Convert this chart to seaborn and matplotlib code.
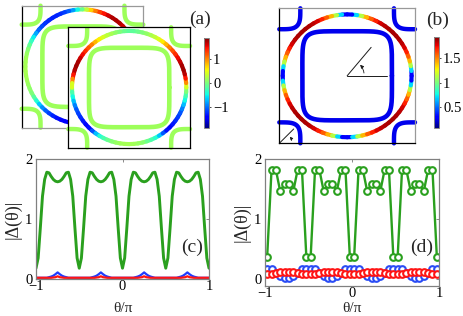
import numpy as np
import matplotlib
matplotlib.use("Agg")
import matplotlib.pyplot as plt
import seaborn as sns
from matplotlib.collections import LineCollection
from matplotlib.patches import FancyArrowPatch
from matplotlib import cm, colors

# ---- data ----
# continuous curves, theta/pi from -1 to 1 in steps of 0.025
theta_c = np.linspace(-1, 1, 81)
gap_green_c = [0.18, 0.35, 0.85, 1.38, 1.66, 1.78, 1.77, 1.71, 1.66, 1.63,
               1.62, 1.63, 1.66, 1.71, 1.77, 1.78, 1.66, 1.38, 0.85, 0.35,
               0.18, 0.35, 0.85, 1.38, 1.66, 1.78, 1.77, 1.71, 1.66, 1.63,
               1.62, 1.63, 1.66, 1.71, 1.77, 1.78, 1.66, 1.38, 0.85, 0.35,
               0.18, 0.35, 0.85, 1.38, 1.66, 1.78, 1.77, 1.71, 1.66, 1.63,
               1.62, 1.63, 1.66, 1.71, 1.77, 1.78, 1.66, 1.38, 0.85, 0.35,
               0.18, 0.35, 0.85, 1.38, 1.66, 1.78, 1.77, 1.71, 1.66, 1.63,
               1.62, 1.63, 1.66, 1.71, 1.77, 1.78, 1.66, 1.38, 0.85, 0.35,
               0.18]
gap_blue_c = [0.02, 0.02, 0.02, 0.02, 0.02, 0.02, 0.03, 0.04, 0.055, 0.08,
              0.11, 0.08, 0.055, 0.04, 0.03, 0.02, 0.02, 0.02, 0.02, 0.02,
              0.02, 0.02, 0.02, 0.02, 0.02, 0.02, 0.03, 0.04, 0.055, 0.08,
              0.11, 0.08, 0.055, 0.04, 0.03, 0.02, 0.02, 0.02, 0.02, 0.02,
              0.02, 0.02, 0.02, 0.02, 0.02, 0.02, 0.03, 0.04, 0.055, 0.08,
              0.11, 0.08, 0.055, 0.04, 0.03, 0.02, 0.02, 0.02, 0.02, 0.02,
              0.02, 0.02, 0.02, 0.02, 0.02, 0.02, 0.03, 0.04, 0.055, 0.08,
              0.11, 0.08, 0.055, 0.04, 0.03, 0.02, 0.02, 0.02, 0.02, 0.02,
              0.02]
gap_red_c = [0.02, 0.02, 0.02, 0.02, 0.02, 0.02, 0.02, 0.02, 0.025, 0.03,
             0.045, 0.03, 0.025, 0.02, 0.02, 0.02, 0.02, 0.02, 0.02, 0.02,
             0.02, 0.02, 0.02, 0.02, 0.02, 0.02, 0.02, 0.02, 0.025, 0.03,
             0.045, 0.03, 0.025, 0.02, 0.02, 0.02, 0.02, 0.02, 0.02, 0.02,
             0.02, 0.02, 0.02, 0.02, 0.02, 0.02, 0.02, 0.02, 0.025, 0.03,
             0.045, 0.03, 0.025, 0.02, 0.02, 0.02, 0.02, 0.02, 0.02, 0.02,
             0.02, 0.02, 0.02, 0.02, 0.02, 0.02, 0.02, 0.02, 0.025, 0.03,
             0.045, 0.03, 0.025, 0.02, 0.02, 0.02, 0.02, 0.02, 0.02, 0.02,
             0.02]

# signed gap on the outer sheet of panel (a), same theta grid
delta_front = [0.15, -0.1, -0.35, -0.6, -0.85, -1.05, -1.15, -1.25, -1.3, -1.4,
               -1.45, -1.3, -0.9, -0.5, -0.3, -0.15, 0.0, 0.1, 0.15, 0.18,
               0.2, 0.18, 0.15, 0.1, 0.0, -0.15, -0.3, -0.5, -0.9, -1.3,
               -1.45, -1.4, -1.3, -1.25, -1.15, -1.05, -0.85, -0.6, -0.35, -0.1,
               0.15, 0.7, 1.3, 1.65, 1.78, 1.8, 1.72, 1.6, 1.45, 1.3,
               1.15, 0.95, 0.7, 0.5, 0.35, 0.25, 0.15, 0.05, -0.05, -0.12,
               -0.15, -0.12, -0.05, 0.05, 0.15, 0.25, 0.35, 0.5, 0.7, 0.95,
               1.15, 1.3, 1.45, 1.6, 1.72, 1.8, 1.78, 1.65, 1.3, 0.7,
               0.15]
delta_back = [0.2, 0.2, 0.2, 0.18, 0.15, 0.1, 0.05, -0.05, -0.3, -0.55,
              -0.8, -1.0, -1.15, -1.25, -1.35, -1.4, -1.45, -1.45, -1.35, -1.2,
              -1.0, -0.75, -0.5, -0.25, -0.05, 0.1, 0.15, 0.2, 0.2, 0.2,
              0.2, 0.2, 0.2, 0.2, 0.2, 0.25, 0.3, 0.4, 0.55, 0.7,
              0.85, 1.0, 1.1, 1.2, 1.3, 1.4, 1.45, 1.5, 1.55, 1.58,
              1.6, 1.7, 1.75, 1.75, 1.7, 1.55, 1.4, 1.2, 0.9, 0.5,
              0.1, -0.3, -0.7, -1.0, -1.15, -1.25, -1.3, -1.3, -1.3, -1.25,
              -1.2, -1.1, -0.95, -0.65, -0.4, -0.2, 0.0, 0.1, 0.15, 0.18,
              0.2]
# gap magnitude on the outer sheet of panel (b), same theta grid
gap_outer_b = [0.1, 0.45, 0.95, 1.3, 1.5, 1.65, 1.75, 1.82, 1.85, 1.86,
               1.86, 1.86, 1.85, 1.82, 1.75, 1.65, 1.5, 1.3, 0.95, 0.45,
               0.1, 0.45, 0.95, 1.3, 1.5, 1.65, 1.75, 1.82, 1.85, 1.86,
               1.86, 1.86, 1.85, 1.82, 1.75, 1.65, 1.5, 1.3, 0.95, 0.45,
               0.1, 0.45, 0.95, 1.3, 1.5, 1.65, 1.75, 1.82, 1.85, 1.86,
               1.86, 1.86, 1.85, 1.82, 1.75, 1.65, 1.5, 1.3, 0.95, 0.45,
               0.1, 0.45, 0.95, 1.3, 1.5, 1.65, 1.75, 1.82, 1.85, 1.86,
               1.86, 1.86, 1.85, 1.82, 1.75, 1.65, 1.5, 1.3, 0.95, 0.45,
               0.1]
inner_delta_a = 0.15   # rounded square + corner pockets, panel (a)
inner_gap_b = 0.25     # rounded square + corner pockets, panel (b)

# discrete points, panel (d)
theta_d = np.linspace(-0.975, 0.975, 40)
gap_green_d = [0.37, 1.82, 1.82, 1.46, 1.59, 1.59, 1.46, 1.82, 1.82, 0.37] * 4
gap_blue_d = [0.17, 0.16, 0.10, 0.04, 0.02, 0.02, 0.04, 0.10, 0.16, 0.17] * 4
gap_red_d = [0.08, 0.08, 0.09, 0.11, 0.12, 0.12, 0.11, 0.09, 0.08, 0.08] * 4

# ---- figure ----
sns.set_theme(style="white")
plt.rcParams['font.family'] = ['Liberation Serif', 'DejaVu Serif']

W, H = 463, 316
fig = plt.figure(figsize=(W / 100, H / 100), dpi=100)
cmap = plt.get_cmap('jet')

GREEN = '#2aa01e'
BLUE = '#1f3cff'
RED = '#ff1414'


def px_axes(x0, y0, x1, y1):
    return fig.add_axes([x0 / W, (H - y1) / H, (x1 - x0) / W, (y1 - y0) / H])


def bz_axes(x0, y0, x1, y1, edge):
    ax = px_axes(x0, y0, x1, y1)
    ax.set_xlim(-1, 1)
    ax.set_ylim(-1, 1)
    ax.set_xticks([])
    ax.set_yticks([])
    ax.set_facecolor('white')
    for side, c in zip(['left', 'bottom', 'top', 'right'], edge):
        ax.spines[side].set_color(c)
        ax.spines[side].set_linewidth(0.9)
    return ax


def draw_fs(ax, vals, inner_val, norm, rx, ry):
    c_in = cmap(norm(inner_val))
    tq = np.linspace(0, np.pi / 2, 60)
    pr, pn = 0.31, 4.0
    for cx in (-1, 1):
        for cy in (-1, 1):
            ax.plot(cx - cx * pr * np.abs(np.cos(tq)) ** (2 / pn),
                    cy - cy * pr * np.abs(np.sin(tq)) ** (2 / pn),
                    color=c_in, lw=3.2, solid_capstyle='round', clip_on=False)
    t = np.linspace(0, 2 * np.pi, 400)
    sr, sn = 0.66, 6.0
    ax.plot(sr * np.sign(np.cos(t)) * np.abs(np.cos(t)) ** (2 / sn),
            sr * np.sign(np.sin(t)) * np.abs(np.sin(t)) ** (2 / sn),
            color=c_in, lw=3.3, clip_on=False)
    v = np.asarray(vals)
    pts = np.column_stack([rx * np.cos(np.pi * theta_c), ry * np.sin(np.pi * theta_c)])
    segs = np.stack([pts[:-1], pts[1:]], axis=1)
    lc = LineCollection(segs, cmap=cmap, norm=norm, linewidths=3.0,
                        capstyle='round', clip_on=False)
    lc.set_array((v[:-1] + v[1:]) / 2)
    ax.add_collection(lc)


# panel (a): two offset zones
norm_a = colors.Normalize(-1.9, 1.9)
ax_back = bz_axes(21.7, 5.7, 143.3, 127.7, ['black', '#999999', '#999999', '#999999'])
draw_fs(ax_back, delta_back, inner_delta_a, norm_a, 0.94, 0.94)
ax_front = bz_axes(68.3, 27.3, 190, 147.7, ['black'] * 4)
draw_fs(ax_front, delta_front, inner_delta_a, norm_a, 0.94, 0.94)

# panel (b)
norm_b = colors.Normalize(0.07, 1.93)
ax_b = bz_axes(279.3, 8.3, 415, 143.3, ['black', 'black', '#999999', '#999999'])
draw_fs(ax_b, gap_outer_b, inner_gap_b, norm_b, 0.95, 0.91)
ang = np.deg2rad(50)
ax_b.plot([0, 0.59], [0, 0], color='k', lw=0.7)
ax_b.plot([0, 0.55 * np.cos(ang)], [0, 0.55 * np.sin(ang)], color='k', lw=0.7)
ax_b.add_patch(FancyArrowPatch((0.25, 0), (0.25 * np.cos(ang), 0.25 * np.sin(ang)),
                               connectionstyle='arc3,rad=0.25', arrowstyle='-|>',
                               mutation_scale=5, lw=0.6, color='k'))
ax_b.plot([-1, -1 + 0.3 * np.cos(np.pi / 4)], [-1, -1 + 0.3 * np.sin(np.pi / 4)],
          color='k', lw=0.7)
ax_b.add_patch(FancyArrowPatch((-1 + 0.18, -1), (-1 + 0.18 * np.cos(np.pi / 4), -1 + 0.18 * np.sin(np.pi / 4)),
                               connectionstyle='arc3,rad=0.3', arrowstyle='-|>',
                               mutation_scale=4, lw=0.6, color='k'))

# colour bars
for (x0, y0, x1, y1), norm, ticks in [((204, 38, 209, 128), norm_a, [-1, 0, 1]),
                                      ((434, 37, 439, 128), norm_b, [0.5, 1, 1.5])]:
    cax = px_axes(x0, y0, x1, y1)
    cb = fig.colorbar(cm.ScalarMappable(norm=norm, cmap=cmap), cax=cax, ticks=ticks)
    cb.outline.set_edgecolor('#888888')
    cb.outline.set_linewidth(0.7)
    cax.tick_params(labelsize=10.5, length=1.5, width=0.5, pad=1.5, colors='black')
    cax.set_yticklabels([f"{t:g}".replace('-', '\u2212') for t in ticks])

fig.text(200 / W, 1 - 19 / H, '(a)', fontsize=14, ha='center', va='center')
fig.text(438 / W, 1 - 20 / H, '(b)', fontsize=14, ha='center', va='center')


def gap_axes(x0, y0, x1, y1, ymin, tag):
    ax = px_axes(x0, y0, x1, y1)
    ax.set_xlim(-1, 1)
    ax.set_ylim(ymin, 2)
    ax.set_xticks([-1, 0, 1])
    ax.set_yticks([0, 1, 2])
    ax.tick_params(direction='in', length=2, width=0.6, top=True, right=True,
                   labelsize=10.5, colors='#777777', labelcolor='black')
    ax.tick_params(axis='x', pad=1)
    ax.tick_params(axis='y', pad=2.5)
    for s in ax.spines.values():
        s.set_color('#808080')
        s.set_linewidth(0.9)
    ax.set_xlabel('θ/π', fontsize=11, va='center')
    ax.xaxis.set_label_coords(0.5, -(309 - y1) / (y1 - y0))
    ax.set_ylabel('|Δ(θ)|', fontsize=13, va='center')
    ax.yaxis.set_label_coords(-23 / (x1 - x0), 0.5)
    ax.text(0.8, 0.53, tag, fontsize=14, ha='center', va='center')
    return ax


# panel (c)
ax_c = gap_axes(36, 159, 209, 279, 0, '(c)')
sns.lineplot(x=theta_c, y=gap_green_c, ax=ax_c, color=GREEN, lw=2.1, estimator=None, sort=False)
sns.lineplot(x=theta_c, y=gap_blue_c, ax=ax_c, color=BLUE, lw=1.6, estimator=None, sort=False)
sns.lineplot(x=theta_c, y=gap_red_c, ax=ax_c, color=RED, lw=1.6, estimator=None, sort=False)

# panel (d)
ax_d = gap_axes(265, 159, 439, 286, -0.12, '(d)')
for yv, col in [(gap_green_d, GREEN), (gap_blue_d, '#2a4cf5'), (gap_red_d, RED)]:
    sns.lineplot(x=theta_d, y=yv, ax=ax_d, color=col, lw=1.7, estimator=None, sort=False,
                 marker='o', markersize=4.8, markeredgewidth=1.5,
                 markeredgecolor=col, markerfacecolor='white')

fig.savefig('out.png', dpi=100)
